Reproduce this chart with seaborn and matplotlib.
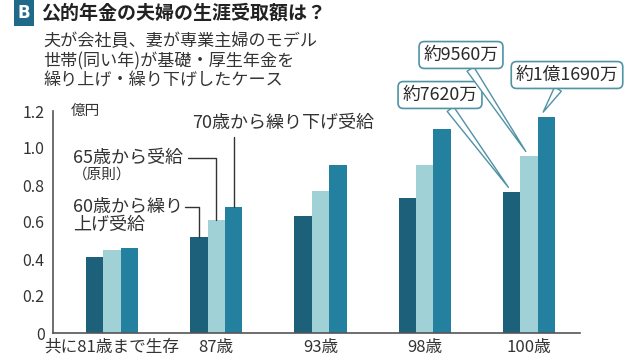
import pandas as pd
import matplotlib.pyplot as plt
import seaborn as sns

# data (unit: 億円)
categories = ['共に81歳まで生存', '87歳', '93歳', '98歳', '100歳']
early_60 = [0.41, 0.52, 0.63, 0.73, 0.762]
normal_65 = [0.45, 0.61, 0.77, 0.91, 0.956]
late_70 = [0.46, 0.68, 0.91, 1.10, 1.169]
series_names = ['60歳から繰り上げ受給', '65歳から受給(原則)', '70歳から繰り下げ受給']
y_ticks = [0, 0.2, 0.4, 0.6, 0.8, 1.0, 1.2]
y_tick_labels = ['0', '0.2', '0.4', '0.6', '0.8', '1.0', '1.2']
callouts = ['約7620万', '約9560万', '約1億1690万']

colors = ['#1d6079', '#a0d1d7', '#23819f']

df = pd.DataFrame({
    'cat': categories * 3,
    'val': early_60 + normal_65 + late_70,
    'series': [s for s in series_names for _ in categories],
})

sns.set_style('white')
plt.rcParams['font.family'] = ['Noto Sans CJK JP', 'DejaVu Sans']

fig = plt.figure(figsize=(6.4, 3.6), dpi=100)
ax = fig.add_axes([53 / 640, 1 - 333 / 360, (580 - 53) / 640, (333 - 111) / 360])

sns.barplot(data=df, x='cat', y='val', hue='series', palette=colors,
            width=0.5, saturation=1, legend=False, ax=ax, linewidth=0)

ax.set_xlim(-0.566, 4.49)
ax.set_ylim(0, 1.2)
ax.set_yticks(y_ticks)
ax.set_yticklabels(y_tick_labels)
ax.set_xlabel('')
ax.set_ylabel('')
sns.despine(ax=ax)
for s in ['left', 'bottom']:
    ax.spines[s].set_color('#555555')
    ax.spines[s].set_linewidth(1.2)
ax.tick_params(axis='y', direction='in', length=7, width=1.1, color='#555555',
               labelsize=11.5, labelcolor='#333333', pad=6)
ax.tick_params(axis='x', length=0, labelsize=12, labelcolor='#333333', pad=4)

ax.text(-0.40, 1.2, '億円', fontsize=10.5, color='#333333', va='center', ha='left')

# bar positions from the drawn containers
def bar_top(series_idx, cat_idx):
    b = ax.containers[series_idx][cat_idx]
    return b.get_x() + b.get_width() / 2, b.get_height()

# left-side series labels with leader lines (group 87歳)
line_kw = dict(color='#333333', lw=1.0, clip_on=False)
txt_kw = dict(fontsize=13, color='#333333', va='center', ha='left', clip_on=False)

cx, h = bar_top(2, 1)
ax.plot([cx, cx], [h, 1.06], **line_kw)
ax.text(0.77, 1.135, '70歳から繰り下げ受給', **txt_kw)

cx, h = bar_top(1, 1)
ax.plot([0.73, cx, cx], [0.946, 0.946, h], **line_kw)
ax.text(-0.374, 0.946, '65歳から受給', **txt_kw)
ax.text(-0.374, 0.854, '（原則）', fontsize=10.5, color='#333333', va='center', ha='left')

cx, h = bar_top(0, 1)
ax.plot([0.70, cx, cx], [0.681, 0.681, h], **line_kw)
ax.text(-0.374, 0.681, '60歳から繰り', **txt_kw)
ax.text(-0.374, 0.584, '上げ受給', **txt_kw)

# speech-bubble callouts on 100歳
bubble_pos = [(440, 265), (461, 305), (567, 285)]
for i, (label, pos) in enumerate(zip(callouts, bubble_pos)):
    cx, h = bar_top(i, 4)
    ax.annotate(label, xy=(cx - 0.03, h + 0.025), xycoords='data',
                xytext=pos, textcoords='figure pixels',
                fontsize=12.8, color='#2a2a2a', ha='center', va='center',
                bbox=dict(boxstyle='round,pad=0.25,rounding_size=0.3',
                          fc='white', ec='#4f93a4', lw=1.2),
                arrowprops=dict(arrowstyle='wedge,tail_width=0.45,shrink_factor=0.5',
                                fc='white', ec='#4f93a4', lw=1.0,
                                shrinkA=0, shrinkB=0),
                annotation_clip=False)

# title block
fig.text(24 / 640, 1 - 13 / 360, 'B', color='white', fontsize=12, weight='bold',
         ha='center', va='center', family='DejaVu Sans',
         bbox=dict(boxstyle='square,pad=0.25', fc='#1f6a88', ec='none'))
fig.text(41 / 640, 1 - 13 / 360, '公的年金の夫婦の生涯受取額は？', fontsize=13.7,
         weight='bold', color='#222222', ha='left', va='center')
sub_lines = ['夫が会社員、妻が専業主婦のモデル',
             '世帯(同い年)が基礎・厚生年金を',
             '繰り上げ・繰り下げしたケース']
for y_px, line in zip([41, 61, 80], sub_lines):
    fig.text(43 / 640, 1 - y_px / 360, line, fontsize=12.3, color='#333333',
             ha='left', va='center')

fig.savefig('out.png', dpi=100)
